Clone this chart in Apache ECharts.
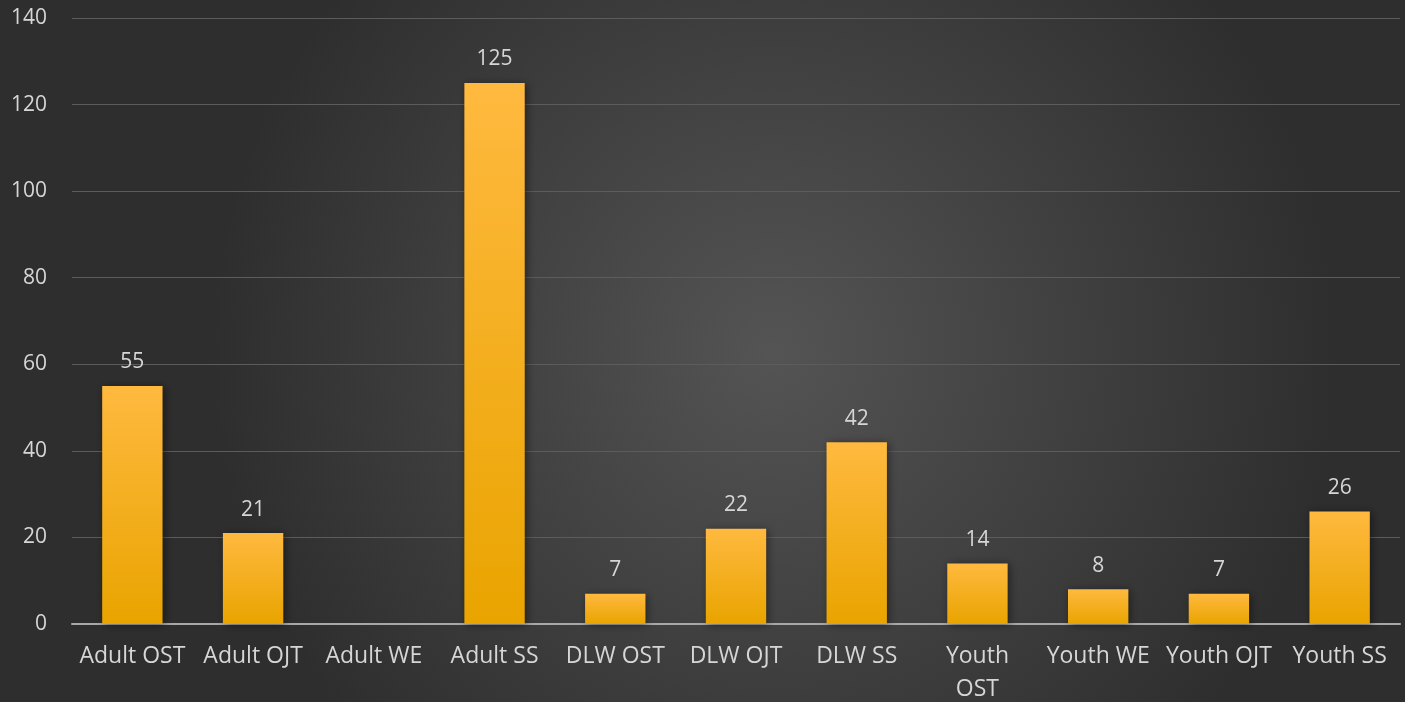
<!DOCTYPE html>
<html>
<head>
<meta charset="utf-8">
<style>
  html, body { margin: 0; padding: 0; background: #3a3a3a; }
  #chart { width: 1405px; height: 702px; }
</style>
<script src="https://cdn.jsdelivr.net/npm/echarts@6/dist/echarts.min.js"></script>
</head>
<body>
<div id="chart"></div>
<script>
// Enrolments by program and service type
const categories = ['Adult OST', 'Adult OJT', 'Adult WE', 'Adult SS', 'DLW OST', 'DLW OJT', 'DLW SS', 'Youth\nOST', 'Youth WE', 'Youth OJT', 'Youth SS'];
const values = [55, 21, 0, 125, 7, 22, 42, 14, 8, 7, 26];
const yTicks = { min: 0, max: 140, interval: 20 };

const textColor = '#d6d6d6';
const fontFamily = 'Open Sans';

const chart = echarts.init(document.getElementById('chart'));
chart.setOption({
  backgroundColor: {
    type: 'radial', x: 0.55, y: 0.5, r: 0.8,
    colorStops: [
      { offset: 0, color: '#545454' },
      { offset: 1, color: '#2e2e2e' }
    ]
  },
  grid: { left: 72, right: 5, top: 18, bottom: 78, containLabel: false, outerBoundsMode: 'none' },
  xAxis: {
    type: 'category',
    data: categories,
    axisLine: { lineStyle: { color: '#a8a8a8', width: 2 } },
    axisTick: { show: false },
    axisLabel: {
      color: textColor, fontFamily: fontFamily, fontSize: 23,
      interval: 0, margin: 16, lineHeight: 33
    }
  },
  yAxis: {
    type: 'value',
    min: yTicks.min, max: yTicks.max, interval: yTicks.interval,
    axisLine: { show: false },
    axisTick: { show: false },
    splitLine: { lineStyle: { color: '#5c5c5c', width: 1 } },
    axisLabel: { color: textColor, fontFamily: fontFamily, fontSize: 21, margin: 25 }
  },
  series: [{
    type: 'bar',
    data: values.map(v => v === 0 ? null : v),
    barWidth: '50%',
    itemStyle: {
      color: {
        type: 'linear', x: 0, y: 0, x2: 0, y2: 1,
        colorStops: [
          { offset: 0, color: '#ffb93f' },
          { offset: 1, color: '#e9a400' }
        ]
      },
      shadowColor: 'rgba(0,0,0,0.45)', shadowBlur: 8, shadowOffsetX: 2, shadowOffsetY: 1
    },
    label: {
      show: true, position: 'top', distance: 13,
      color: textColor, fontFamily: fontFamily, fontSize: 21
    }
  }]
});
</script>
</body>
</html>
